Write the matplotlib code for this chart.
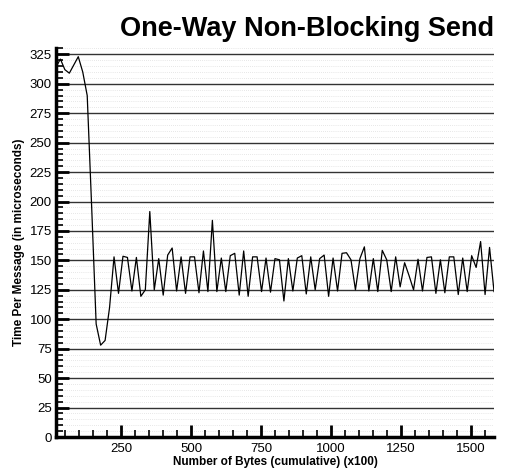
import numpy as np
import matplotlib
matplotlib.use('Agg')
import matplotlib.pyplot as plt
from matplotlib.ticker import MultipleLocator

plt.rcParams['font.family'] = ['Liberation Sans', 'DejaVu Sans']

# cumulative bytes (x100), one sample every 16
bytes_x100 = np.arange(16, 1585, 16)

# time per message (microseconds)
time_us = [
    314, 321, 312, 309, 316, 323, 310, 290, 195, 96,
    78, 82, 110, 153, 122, 153.5, 152.5, 124, 152.5, 119.5,
    125, 191.5, 125, 151.5, 120.5, 154.5, 160.5, 124, 153, 122,
    153, 153, 122.5, 158, 123.5, 184, 123.5, 152, 123.5, 154,
    156, 120.5, 158, 119.5, 153, 153, 123.5, 152, 123, 151.5,
    150.5, 115.5, 151.5, 124, 152, 154, 121.5, 153, 125, 151.5,
    154.5, 119.5, 152, 124, 156, 156.5, 150.5, 125, 151.5, 161.5,
    124, 151.5, 123.5, 158.5, 150.5, 123.5, 153, 127.5, 148, 137,
    125, 151, 124, 152.5, 153, 122, 150.5, 122.5, 153, 153,
    121, 152, 123.5, 154, 144, 166, 121, 161, 123.5,
]

fig = plt.figure(figsize=(5.13, 4.75), dpi=100)
ax = fig.add_axes([0.109, 0.08, 0.854, 0.818])

# grid: solid majors every 25, dotted minors every 5
for yv in np.arange(0, 331, 5):
    if yv % 25 == 0:
        if yv > 0:
            ax.axhline(yv, color='0.2', lw=1.0, zorder=1)
    else:
        ax.axhline(yv, color='0.82', lw=0.5, ls=(0, (1, 2)), zorder=0)

ax.plot(bytes_x100, time_us, color='black', lw=0.9, zorder=3)

ax.set_xlim(16, 1584)
ax.set_ylim(0, 330)
ax.xaxis.set_major_locator(MultipleLocator(250))
ax.xaxis.set_minor_locator(MultipleLocator(50))
ax.yaxis.set_major_locator(MultipleLocator(25))
ax.yaxis.set_minor_locator(MultipleLocator(5))

ax.spines['top'].set_visible(False)
ax.spines['right'].set_visible(False)
ax.spines['left'].set_linewidth(2.5)
ax.spines['bottom'].set_linewidth(2.5)

ax.tick_params(which='major', direction='in', length=9, width=2, labelsize=9.5, pad=3)
ax.tick_params(which='minor', direction='in', length=5, width=1.2)
ax.tick_params(axis='x', pad=4)

ax.set_xlabel('Number of Bytes (cumulative) (x100)', fontsize=8.5, fontweight='bold', labelpad=1)
ax.set_ylabel('Time Per Message (in microseconds)', fontsize=8.5, fontweight='bold', labelpad=3)
ax.set_title('One-Way Non-Blocking Send', fontsize=19.5, fontweight='bold', loc='right', pad=9)

fig.savefig('out.png', dpi=100)
